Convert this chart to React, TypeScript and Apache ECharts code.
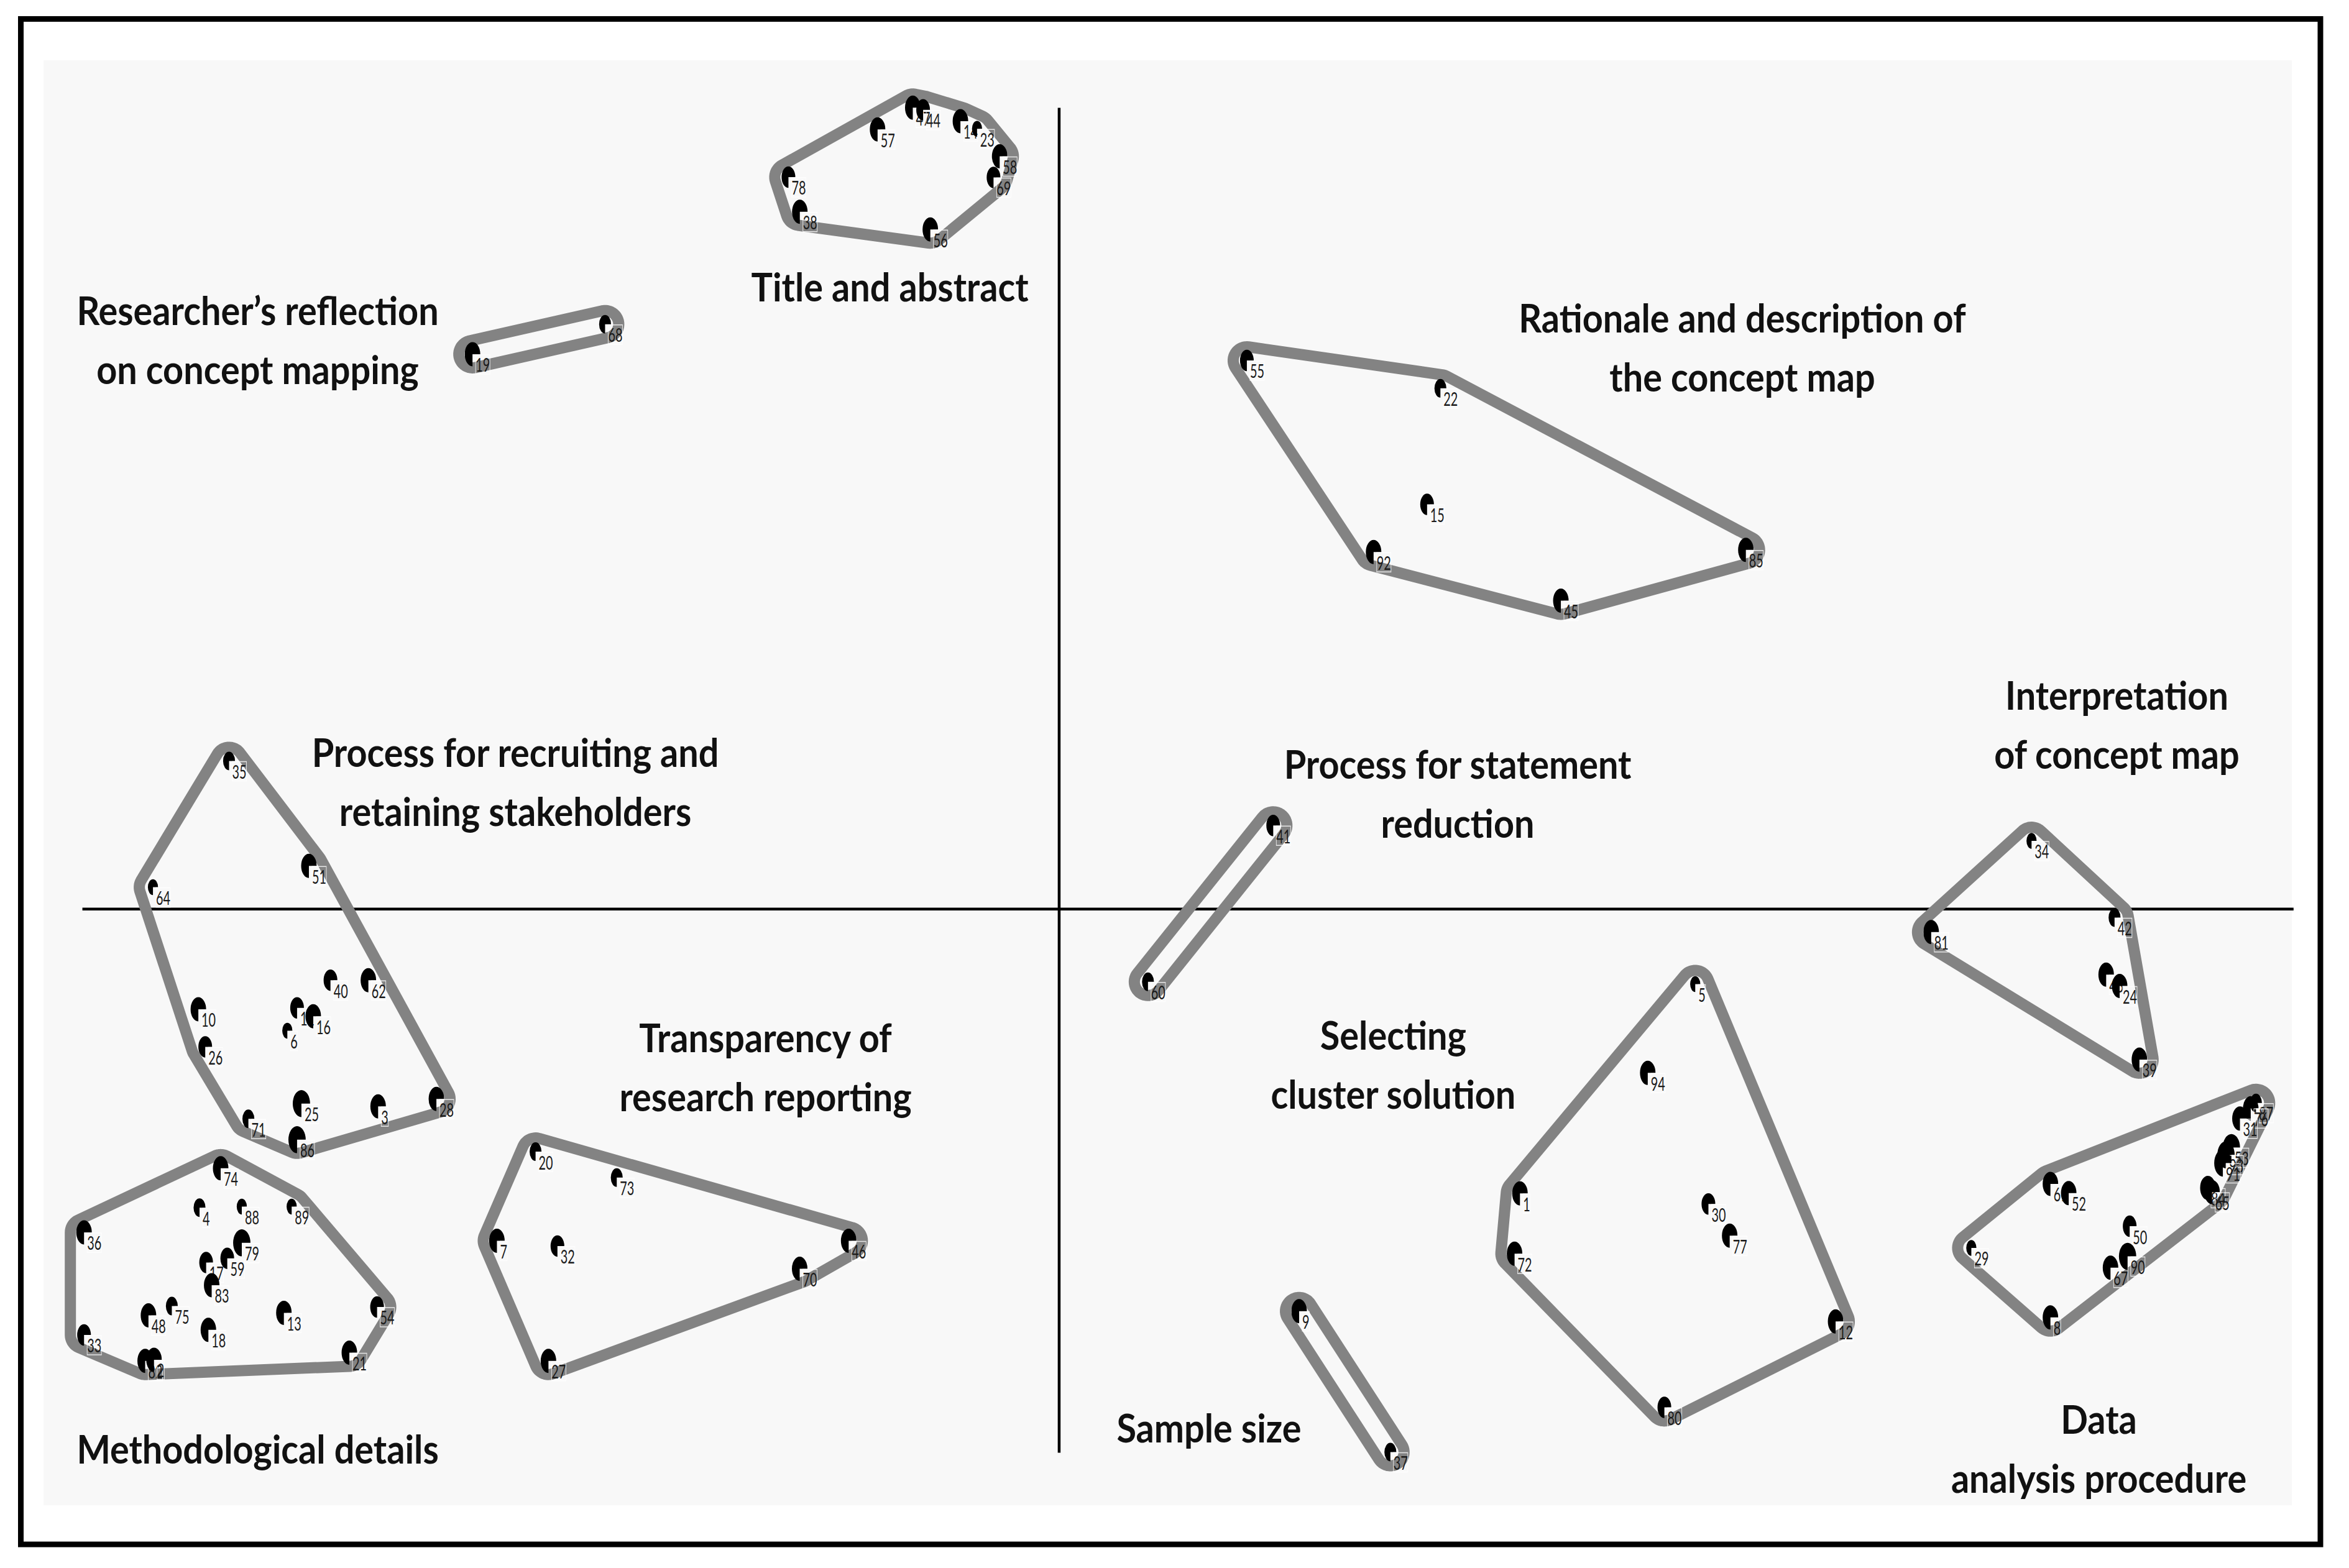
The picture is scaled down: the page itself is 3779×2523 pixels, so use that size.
import React, { useEffect, useRef } from "react";
import * as echarts from "echarts";

// Concept map coordinates: origin at the crosshair, x to the right, y upward.
// Each point: [statement number, x, y, rating (1-5, drawn as marker size)]
const titleAndAbstract = [
  [57, -121.2, 520.6, 4], [47, -97.7, 535.1, 4], [44, -90.8, 533.7, 3], [14, -65.9, 526.1, 4],
  [23, -54.8, 521.0, 1], [58, -39.7, 502.6, 4], [69, -43.8, 488.5, 3], [78, -180.7, 488.7, 3],
  [38, -173.1, 465.6, 4], [56, -86.0, 453.8, 4],
];
const researcherReflection = [
  [19, -391.6, 370.5, 4], [68, -303.1, 390.5, 2],
];
const rationaleDescription = [
  [55, 125.3, 366.3, 3], [22, 254.5, 347.7, 2], [15, 245.6, 270.2, 3],
  [92, 209.9, 238.4, 4], [45, 334.9, 205.9, 4], [85, 458.4, 239.8, 4],
];
const recruitingRetaining = [
  [35, -554.1, 98.9, 2], [64, -604.9, 14.6, 1], [51, -500.8, 28.8, 4], [40, -486.4, -47.5, 3],
  [62, -461.1, -47.5, 4], [10, -574.6, -66.9, 4], [11, -508.7, -66.0, 3], [16, -497.9, -71.6, 4],
  [6, -515.2, -81.2, 1], [26, -570.0, -92.0, 3], [25, -505.8, -129.9, 5], [3, -454.6, -131.8, 4],
  [28, -415.7, -126.8, 4], [71, -541.2, -140.1, 2], [86, -508.7, -154.0, 5],
];
const methodologicalDetails = [
  [74, -559.7, -173.1, 4], [4, -573.8, -199.4, 2], [88, -545.6, -198.7, 1], [89, -512.3, -198.7, 1],
  [36, -650.9, -215.9, 4], [79, -545.6, -222.9, 5], [17, -569.4, -236.0, 3], [59, -555.3, -233.2, 3],
  [83, -565.7, -251.2, 4], [75, -592.3, -265.1, 2], [48, -607.9, -271.3, 4], [18, -567.9, -281.0, 4],
  [13, -517.5, -269.6, 4], [54, -455.3, -265.7, 3], [33, -650.9, -284.4, 3], [82, -610.1, -301.7, 4],
  [2, -604.2, -301.0, 4], [21, -473.8, -296.2, 4],
];
const transparencyReporting = [
  [20, -349.5, -162.0, 2], [73, -295.3, -179.3, 2], [7, -375.3, -221.5, 4], [32, -334.9, -225.0, 3],
  [27, -340.9, -301.7, 4], [70, -173.2, -240.2, 4], [46, -140.5, -221.5, 4],
];
const statementReduction = [
  [41, 142.9, 55.8, 3], [60, 59.3, -48.6, 2],
];
const sampleSize = [
  [9, 160.2, -268.5, 4], [37, 221.1, -362.6, 2],
];
const selectingSolution = [
  [5, 424.6, -50.1, 1], [94, 392.9, -109.4, 4], [1, 307.6, -189.9, 4], [72, 304.0, -230.1, 4],
  [30, 433.4, -196.9, 3], [77, 447.6, -218.1, 4], [12, 518.3, -275.4, 4], [80, 404.0, -332.7, 3],
];
const interpretation = [
  [34, 649.1, 45.5, 1], [42, 704.5, -5.7, 2], [81, 582.1, -15.4, 4],
  [43, 698.9, -43.8, 4], [24, 707.9, -51.4, 4], [39, 721.1, -100.5, 4],
];
const dataAnalysis = [
  [87, 798.9, -129.5, 2], [76, 795.4, -133.0, 4], [31, 788.2, -139.9, 4], [53, 782.5, -159.3, 5],
  [93, 778.9, -164.1, 5], [91, 776.8, -169.6, 5], [84, 766.8, -186.2, 4], [65, 769.6, -189.0, 4],
  [61, 661.7, -183.5, 4], [52, 673.9, -189.7, 4], [50, 714.6, -211.8, 3], [29, 608.9, -226.3, 1],
  [8, 661.7, -272.7, 4], [67, 701.8, -239.5, 4], [90, 713.2, -231.9, 5],
];

const clusterPoints = [
  titleAndAbstract, researcherReflection, rationaleDescription, recruitingRetaining,
  methodologicalDetails, transparencyReporting, statementReduction, sampleSize,
  selectingSolution, interpretation, dataAnalysis,
];
const clusterNames = [
  "Title and abstract",
  "Researcher\u2019s reflection\non concept mapping",
  "Rationale and description of\nthe concept map",
  "Process for recruiting and\nretaining stakeholders",
  "Methodological details",
  "Transparency of\nresearch reporting",
  "Process for statement\nreduction",
  "Sample size",
  "Selecting\ncluster solution",
  "Interpretation\nof concept map",
  "Data\nanalysis procedure",
];
// where each cluster's name is centred (map coordinates)
const clusterNameAnchors = [
  [-113, 416], [-535, 380.5], [456, 375.5], [-363, 85.5], [-535, -360], [-196, -105],
  [266, 77.5], [100, -346], [223, -103.5], [706, 123.5], [694, -360],
];
// crosshair extents (map coordinates)
const crosshairX = [-652, 824];
const crosshairY = [-363, 535];
const xRange = [-707, 861];
const yRange = [-440, 607];

const allPoints = clusterPoints.flat();

function convexHull(pts: number[][]) {
  const p = pts.slice().sort((a, b) => a[0] - b[0] || a[1] - b[1]);
  const u: number[][] = [];
  for (const q of p) {
    const l = u[u.length - 1];
    if (!l || Math.abs(l[0] - q[0]) > 1e-6 || Math.abs(l[1] - q[1]) > 1e-6) u.push(q);
  }
  if (u.length < 3) return u;
  const cross = (o: number[], a: number[], b: number[]) =>
    (a[0] - o[0]) * (b[1] - o[1]) - (a[1] - o[1]) * (b[0] - o[0]);
  const lower: number[][] = [];
  for (const q of u) {
    while (lower.length >= 2 && cross(lower[lower.length - 2], lower[lower.length - 1], q) <= 0) lower.pop();
    lower.push(q);
  }
  const upper: number[][] = [];
  for (let i = u.length - 1; i >= 0; i--) {
    const q = u[i];
    while (upper.length >= 2 && cross(upper[upper.length - 2], upper[upper.length - 1], q) <= 0) upper.pop();
    upper.push(q);
  }
  upper.pop();
  lower.pop();
  return lower.concat(upper);
}

function bufferedOutline(h: number[][], r: number) {
  const res: number[][] = [];
  const n = h.length;
  if (n === 1) {
    for (let k = 0; k < 48; k++) {
      const a = (k / 48) * Math.PI * 2;
      res.push([h[0][0] + r * Math.cos(a), h[0][1] + r * Math.sin(a)]);
    }
    return res;
  }
  const normal = (p: number[], q: number[]) => {
    const dx = q[0] - p[0], dy = q[1] - p[1];
    const len = Math.hypot(dx, dy) || 1;
    return [dy / len, -dx / len];
  };
  for (let i = 0; i < n; i++) {
    const prev = h[(i - 1 + n) % n], cur = h[i], next = h[(i + 1) % n];
    const n1 = normal(prev, cur), n2 = normal(cur, next);
    const a1 = Math.atan2(n1[1], n1[0]);
    let a2 = Math.atan2(n2[1], n2[0]);
    while (a2 < a1 - 1e-9) a2 += Math.PI * 2;
    const steps = Math.max(1, Math.ceil((a2 - a1) / (Math.PI / 24)));
    for (let k = 0; k <= steps; k++) {
      const a = a1 + ((a2 - a1) * k) / steps;
      res.push([cur[0] + r * Math.cos(a), cur[1] + r * Math.sin(a)]);
    }
  }
  return res;
}

export default function App() {
  const ref = useRef<HTMLDivElement>(null);
  useEffect(() => {
    if (!ref.current) return;
    const chart = echarts.init(ref.current, null, { renderer: "svg" });
    const option: any = {
      animation: false,
      backgroundColor: "#ffffff",
      grid: { left: 0, top: 0, right: 0, bottom: 0, containLabel: false },
      xAxis: { type: "value", min: xRange[0], max: xRange[1], show: false },
      yAxis: { type: "value", min: yRange[0], max: yRange[1], show: false },
      graphic: [
        {
          type: "rect", z: -1, silent: true,
          shape: { x: 70, y: 97, width: 3617, height: 2325 },
          style: { fill: "#f8f8f8" },
        },
        {
          type: "rect", z: 100, silent: true,
          shape: { x: 33.5, y: 30.5, width: 3699.5, height: 2454.5 },
          style: { fill: "none", stroke: "#000000", lineWidth: 9 },
        },
      ],
      series: [
        {
          type: "custom",
          name: "crosshair",
          z: 2,
          silent: true,
          data: [
            [0, crosshairY[0], 0, crosshairY[1]],
            [crosshairX[0], 0, crosshairX[1], 0],
          ],
          renderItem: (params: any, api: any) => {
            const a = api.coord([api.value(0), api.value(1)]);
            const b = api.coord([api.value(2), api.value(3)]);
            return {
              type: "line",
              shape: { x1: a[0], y1: a[1], x2: b[0], y2: b[1] },
              style: { stroke: "#000000", lineWidth: 4.5 },
            };
          },
        },
        {
          type: "custom",
          name: "clusters",
          z: 3,
          silent: true,
          data: clusterPoints.map((pts) => [
            pts.reduce((s, p) => s + p[1], 0) / pts.length,
            pts.reduce((s, p) => s + p[2], 0) / pts.length,
          ]),
          renderItem: (params: any, api: any) => {
            const pts = clusterPoints[params.dataIndex].map((p) => api.coord([p[1], p[2]]));
            const hull = convexHull(pts);
            const outline = bufferedOutline(hull, 22);
            return {
              type: "polygon",
              shape: { points: outline },
              style: { fill: "none", stroke: "#838383", lineWidth: 18, lineJoin: "round" },
            };
          },
        },
        {
          type: "custom",
          name: "statements",
          z: 4,
          silent: true,
          data: allPoints.map((p) => [p[1], p[2]]),
          renderItem: (params: any, api: any) => {
            const p = allPoints[params.dataIndex];
            const c = api.coord([api.value(0), api.value(1)]);
            const h = 21 + 4.5 * p[3];
            return {
              type: "group",
              children: [
                {
                  type: "sector",
                  x: c[0], y: c[1], scaleX: 0.64,
                  shape: { cx: 0, cy: 0, r0: 0, r: h / 2, startAngle: Math.PI / 2, endAngle: Math.PI * 2, clockwise: true },
                  style: { fill: "#000000" },
                },
                {
                  type: "text",
                  x: c[0] + 5, y: c[1] + 1, scaleX: 0.64,
                  style: {
                    text: String(p[0]),
                    fontFamily: "Lato",
                    fontSize: 31,
                    fill: "#1a1a1a",
                    align: "left",
                    verticalAlign: "top",
                    textBorderColor: "rgba(255,255,255,0.8)",
                    textBorderWidth: 1.5,
                  },
                },
              ],
            };
          },
        },
        {
          type: "custom",
          name: "clusterNames",
          z: 5,
          silent: true,
          data: clusterNameAnchors,
          renderItem: (params: any, api: any) => {
            const c = api.coord([api.value(0), api.value(1)]);
            return {
              type: "text",
              x: c[0], y: c[1], scaleX: 0.9,
              style: {
                text: clusterNames[params.dataIndex],
                fontFamily: "Lato",
                fontWeight: "bold",
                fontSize: 64,
                lineHeight: 95,
                fill: "#111111",
                align: "center",
                verticalAlign: "middle",
              },
            };
          },
        },
      ],
    };
    chart.setOption(option);
    return () => chart.dispose();
  }, []);
  return (
    <div
      ref={ref}
      style={{ position: "fixed", left: 0, top: 0, width: 3779, height: 2523, background: "#fff" }}
    />
  );
}
